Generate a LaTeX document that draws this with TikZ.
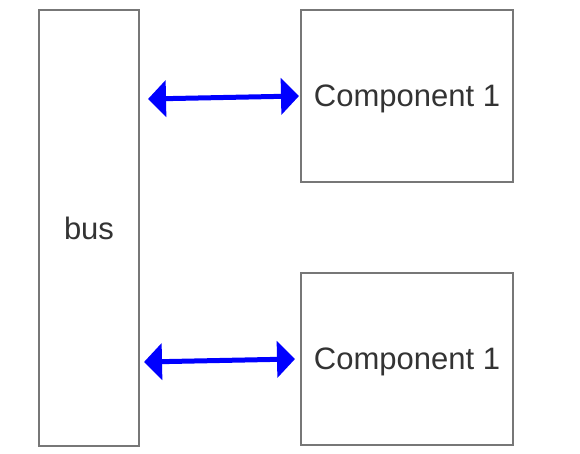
\documentclass[tikz,border=0pt]{standalone}
\usepackage{fontspec}
\setmainfont{Liberation Sans}
\usepackage{xcolor}
\usetikzlibrary{positioning,calc,arrows.meta}
\definecolor{boxgray}{HTML}{777777}
\definecolor{textgray}{HTML}{333333}
\begin{document}
\begin{tikzpicture}[x=1pt,y=1pt,
    box/.style={draw=boxgray, line width=2pt, text=textgray, font=\fontsize{31}{36}\selectfont},
    link/.style={blue, line width=5pt, {Triangle[length=18pt,width=36pt]}-{Triangle[length=18pt,width=36pt]}}]
        \useasboundingbox (0,0) rectangle (580,-454);
        \node[box, minimum width=100pt, minimum height=436pt] at (89,-228) (bus) {bus};
        \node[box, text depth=0pt, minimum width=212pt, minimum height=172pt] at (407,-96) (c1) {Component 1};
        \node[box, text depth=0pt, minimum width=212pt, minimum height=172pt] at (407,-359) (c2) {Component 1};

        \draw[link] ([shift={(8pt,-3pt)}]bus.east |- c1.west) -- ([xshift=-1pt]c1.west);
        \draw[link] ([shift={(4pt,-3pt)}]bus.east |- c2.west) -- ([xshift=-5pt]c2.west);
    \end{tikzpicture}
\end{document}
